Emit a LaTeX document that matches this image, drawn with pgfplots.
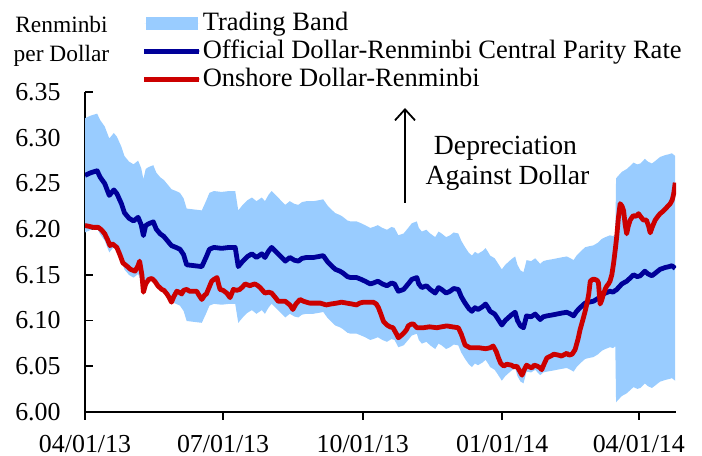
\documentclass[border=0pt]{standalone}
\usepackage{fontspec}
\setmainfont{Liberation Serif}
\usepackage{pgfplots}
\pgfplotsset{compat=1.18}
\usepackage{pgfplotstable}
\usepgfplotslibrary{fillbetween}
\usetikzlibrary{arrows.meta}
\definecolor{bandblue}{RGB}{153,204,255}
\definecolor{cpblue}{RGB}{0,0,153}
\definecolor{onred}{RGB}{204,0,0}
\newcommand\chartfont{\fontsize{13}{15}\selectfont}
\newcommand\legfont{\fontsize{13.3}{15}\selectfont}
\newcommand\notefont{\fontsize{13.9}{16}\selectfont}
\pgfplotsset{
  linelegend/.style={legend image code/.code={\draw[##1, line width=2bp, line cap=round] (1bp,0bp) -- (26.5bp,0bp); \path (0bp,0bp) -- (27.5bp,0bp);}},
  bandlegend/.style={legend image code/.code={\fill[bandblue] (0.75bp,-3.25bp) rectangle (26.75bp,3.25bp); \path (0bp,0bp) -- (27.5bp,0bp);}},
}

% day (0 = 04/01/13), central parity, upper band, lower band
\pgfplotstableread{
day cp up lo
0 6.259 6.3216 6.1964
4 6.262 6.3246 6.1994
8 6.264 6.3266 6.2014
10 6.257 6.3196 6.1944
13 6.250 6.3125 6.1875
16 6.237 6.2994 6.1746
19 6.243 6.3054 6.1806
21 6.239 6.3014 6.1766
24 6.228 6.2903 6.1657
26 6.218 6.2802 6.1558
29 6.212 6.2741 6.1499
32 6.209 6.2711 6.1469
35 6.213 6.2751 6.1509
37 6.205 6.2671 6.1429
38.5 6.193 6.2549 6.1311
40 6.204 6.2660 6.1420
42 6.206 6.2681 6.1439
45 6.208 6.2701 6.1459
47 6.200 6.2620 6.1380
49.5 6.195 6.2570 6.1330
52 6.192 6.2539 6.1301
55 6.186 6.2479 6.1241
57 6.182 6.2438 6.1202
60 6.180 6.2418 6.1182
62.6 6.178 6.2398 6.1162
65 6.172 6.2337 6.1103
67 6.161 6.2226 6.0994
72 6.160 6.2216 6.0984
77 6.159 6.2206 6.0974
80 6.170 6.2317 6.1083
82 6.178 6.2398 6.1162
85 6.180 6.2418 6.1182
90 6.179 6.2408 6.1172
95 6.180 6.2418 6.1182
99 6.180 6.2418 6.1182
101 6.159 6.2206 6.0974
104 6.165 6.2267 6.1033
107 6.170 6.2317 6.1083
110 6.173 6.2347 6.1113
113 6.169 6.2307 6.1073
116.5 6.173 6.2347 6.1113
118.6 6.169 6.2307 6.1073
121 6.176 6.2378 6.1142
123 6.180 6.2418 6.1182
126 6.175 6.2368 6.1132
129 6.170 6.2317 6.1083
132 6.165 6.2267 6.1033
135 6.169 6.2307 6.1073
138 6.166 6.2277 6.1043
140.6 6.165 6.2267 6.1033
143 6.168 6.2297 6.1063
146 6.169 6.2307 6.1073
150.5 6.169 6.2307 6.1073
154 6.170 6.2317 6.1083
157 6.171 6.2327 6.1093
160 6.164 6.2256 6.1024
163 6.159 6.2206 6.0974
165 6.156 6.2176 6.0944
168 6.154 6.2155 6.0925
170 6.152 6.2135 6.0905
173 6.148 6.2095 6.0865
175 6.147 6.2085 6.0855
179 6.147 6.2085 6.0855
182 6.145 6.2065 6.0835
184.6 6.143 6.2044 6.0816
188 6.140 6.2014 6.0786
190 6.141 6.2024 6.0796
193 6.143 6.2044 6.0816
196 6.140 6.2014 6.0786
199 6.138 6.1994 6.0766
202 6.141 6.2024 6.0796
204 6.140 6.2014 6.0786
206.5 6.132 6.1933 6.0707
210 6.134 6.1953 6.0727
213 6.140 6.2014 6.0786
215.4 6.145 6.2065 6.0835
218.7 6.147 6.2085 6.0855
220 6.140 6.2014 6.0786
222 6.136 6.1974 6.0746
225 6.138 6.1994 6.0766
227.5 6.134 6.1953 6.0727
230.8 6.130 6.1913 6.0687
233 6.136 6.1974 6.0746
235 6.134 6.1953 6.0727
238 6.130 6.1913 6.0687
240.6 6.132 6.1933 6.0707
243 6.135 6.1964 6.0736
246 6.134 6.1953 6.0727
248 6.126 6.1873 6.0647
250.5 6.119 6.1802 6.0578
253 6.113 6.1741 6.0519
255 6.110 6.1711 6.0489
257 6.114 6.1751 6.0529
259 6.112 6.1731 6.0509
262 6.115 6.1761 6.0539
264 6.118 6.1792 6.0568
266 6.113 6.1741 6.0519
267 6.110 6.1711 6.0489
270 6.107 6.1681 6.0459
272 6.102 6.1630 6.0410
274.7 6.095 6.1560 6.0340
277 6.100 6.1610 6.0390
279 6.103 6.1640 6.0420
281 6.106 6.1671 6.0449
283.5 6.109 6.1701 6.0479
285 6.100 6.1610 6.0390
287 6.094 6.1549 6.0331
289 6.092 6.1529 6.0311
291 6.105 6.1661 6.0439
294 6.104 6.1650 6.0430
296.7 6.107 6.1681 6.0459
300 6.101 6.1620 6.0400
302 6.104 6.1650 6.0430
304.4 6.105 6.1661 6.0439
308 6.106 6.1671 6.0449
311 6.107 6.1681 6.0459
314 6.108 6.1691 6.0469
317.5 6.109 6.1701 6.0479
320 6.107 6.1681 6.0459
322 6.105 6.1661 6.0439
324 6.110 6.1711 6.0489
326.3 6.114 6.1751 6.0529
329.6 6.119 6.1802 6.0578
332 6.120 6.1812 6.0588
335 6.121 6.1822 6.0598
338 6.124 6.1852 6.0628
340.6 6.128 6.1893 6.0667
343 6.130 6.1913 6.0687
346 6.132 6.1933 6.0707
348 6.131 6.1923 6.0697
349.5 6.133 6.1943 6.0717
350 6.133 6.2557 6.0103
350.5 6.134 6.2567 6.0113
353.8 6.140 6.2628 6.0172
357 6.143 6.2659 6.0201
359 6.146 6.2689 6.0231
361.5 6.150 6.2730 6.0270
364 6.148 6.2710 6.0250
366 6.149 6.2720 6.0260
369 6.154 6.2771 6.0309
371 6.151 6.2740 6.0280
373.6 6.149 6.2720 6.0260
376 6.152 6.2750 6.0290
379 6.156 6.2791 6.0329
382.4 6.158 6.2812 6.0348
385 6.159 6.2822 6.0358
386.8 6.160 6.2832 6.0368
389 6.157 6.2801 6.0339
}\cptable

\pgfplotstableread{
day on
0 6.204
3 6.203
5.5 6.202
8.8 6.202
11 6.199
13 6.195
15 6.188
16.5 6.182
18 6.184
21 6.180
23 6.172
25 6.163
28 6.159
30 6.156
33 6.154
35 6.160
36 6.165
37.5 6.150
38.5 6.131
40 6.140
42 6.145
44 6.146
46 6.143
48 6.138
50.5 6.134
52 6.133
54 6.129
55.5 6.125
57 6.120
58.5 6.126
60.5 6.132
62 6.131
63.7 6.129
65 6.133
67 6.134
69 6.132
71.4 6.132
73.6 6.132
75 6.128
77 6.123
79 6.128
80 6.129
82 6.137
83.5 6.143
85 6.145
87 6.147
88 6.140
89 6.134
91 6.133
93.4 6.130
95.6 6.125
97.8 6.134
100 6.133
102 6.134
104 6.137
105.5 6.140
108.8 6.138
110 6.139
112 6.140
114 6.138
115.4 6.136
117 6.133
118.6 6.130
121 6.131
123 6.130
125 6.126
127.4 6.121
130 6.121
132 6.121
135 6.117
137 6.112
139 6.118
141.7 6.123
144 6.121
148 6.119
152 6.119
155 6.119
159 6.117
162 6.118
166 6.119
169 6.120
172.5 6.119
176 6.118
179 6.117
181 6.119
183.5 6.120
187 6.120
190 6.120
192 6.118
193.4 6.114
195 6.107
196.7 6.099
199 6.095
201 6.093
203 6.092
205 6.086
206.5 6.081
208 6.083
210 6.086
212 6.090
213 6.094
215 6.096
216.5 6.096
218.7 6.092
221 6.092
223 6.092
227 6.093
232 6.092
235 6.093
238.4 6.094
242 6.093
246 6.092
248 6.085
250.5 6.073
253.8 6.070
257 6.070
260 6.070
264 6.069
267 6.070
269 6.072
271 6.066
272.5 6.059
274 6.053
276 6.050
278 6.052
281 6.051
283 6.049
284.6 6.050
286 6.046
288 6.040
289.5 6.046
291 6.051
293 6.049
294.5 6.048
296 6.051
298 6.050
300 6.048
301 6.046
302.5 6.052
304.4 6.059
307 6.061
309 6.063
312 6.062
314 6.061
317.5 6.064
319 6.062
321 6.063
323 6.068
325 6.080
326.3 6.090
328 6.100
329.6 6.110
331 6.120
332 6.129
333 6.143
334.5 6.145
336 6.145
337.5 6.144
338.4 6.141
339.5 6.118
340.5 6.122
341.7 6.129
343 6.135
344 6.138
345 6.140
346 6.143
347.2 6.150
348.4 6.163
349.5 6.178
350.5 6.193
351.5 6.212
352.7 6.228
354 6.225
355 6.220
356 6.205
357 6.195
358 6.203
359.3 6.210
360.5 6.213
361.5 6.215
363 6.214
364.8 6.217
366.5 6.213
368 6.210
370 6.210
371.5 6.203
372.5 6.196
374 6.203
375.8 6.210
377.5 6.214
379 6.217
380.5 6.219
382.4 6.222
384 6.225
385.7 6.228
387 6.232
388 6.239
389 6.251
}\ontable

\begin{document}
\begin{tikzpicture}
\begin{axis}[
  at={(42.5bp,22.15bp)}, anchor=south west,
  scale only axis, width=295.5bp, height=159.7bp,
  xmin=0, xmax=389.5, ymin=6, ymax=6.35,
  axis lines*=left,
  axis line style={line width=0.9bp, black},
  major tick length=4bp,
  every tick/.style={line width=0.9bp, black},
  tick align=inside,
  xtick style={yshift=-4bp},
  xtick={0,91,183,275,365},
  xticklabels={04/01/13,07/01/13,10/01/13,01/01/14,04/01/14},
  ytick={6.00,6.05,6.10,6.15,6.20,6.25,6.30,6.35},
  /pgf/number format/assume math mode=true,
  ticklabel style={font=\chartfont, text=black},
  xticklabel style={anchor=north, inner sep=0pt, text height=9bp, yshift=-11bp},
  yticklabel style={anchor=east, inner sep=0pt, xshift=-12bp,
    /pgf/number format/fixed, /pgf/number format/fixed zerofill, /pgf/number format/precision=2},
  legend cell align=left,
  legend style={at={(0.0964,1.2536)}, anchor=north west, draw=none, fill=none,
    inner sep=0pt, outer sep=0pt, row sep=2bp, column sep=0.5bp, font=\legfont,
    nodes={inner sep=0pt, text height=9.5bp, text depth=2.5bp}},
]
\addplot[draw=none, name path=U, forget plot] table[x=day, y=up]{\cptable};
\addplot[draw=none, name path=L, forget plot] table[x=day, y=lo]{\cptable};
\addplot[fill=bandblue, draw=none, bandlegend] fill between[of=U and L];
\addlegendentry{Trading Band}
\addplot[cpblue, line width=2.4bp, line join=round, linelegend] table[x=day, y=cp]{\cptable};
\addlegendentry{Official Dollar-Renminbi Central Parity Rate}
\addplot[onred, line width=2.4bp, line join=round, linelegend] table[x=day, y=on]{\ontable};
\addlegendentry{Onshore Dollar-Renminbi}
\end{axis}
\node[anchor=base, font=\fontsize{11.75}{14}\selectfont, inner sep=0pt] at (30.75bp,211.5bp) {Renminbi};
\node[anchor=base, font=\fontsize{11.75}{14}\selectfont, inner sep=0pt] at (30.75bp,197.15bp) {per Dollar};
\node[anchor=base, font=\notefont, inner sep=0pt] at (252.75bp,150.5bp) {Depreciation};
\node[anchor=base, font=\notefont, inner sep=0pt] at (253.75bp,135.5bp) {Against Dollar};
\draw[line width=0.9bp, -{Straight Barb[length=5.5bp, width=10bp]}] (202.5bp,126.5bp) -- (202.5bp,174bp);
\pgfresetboundingbox
\useasboundingbox (0,0) rectangle (351bp,228bp);
\end{tikzpicture}
\end{document}
